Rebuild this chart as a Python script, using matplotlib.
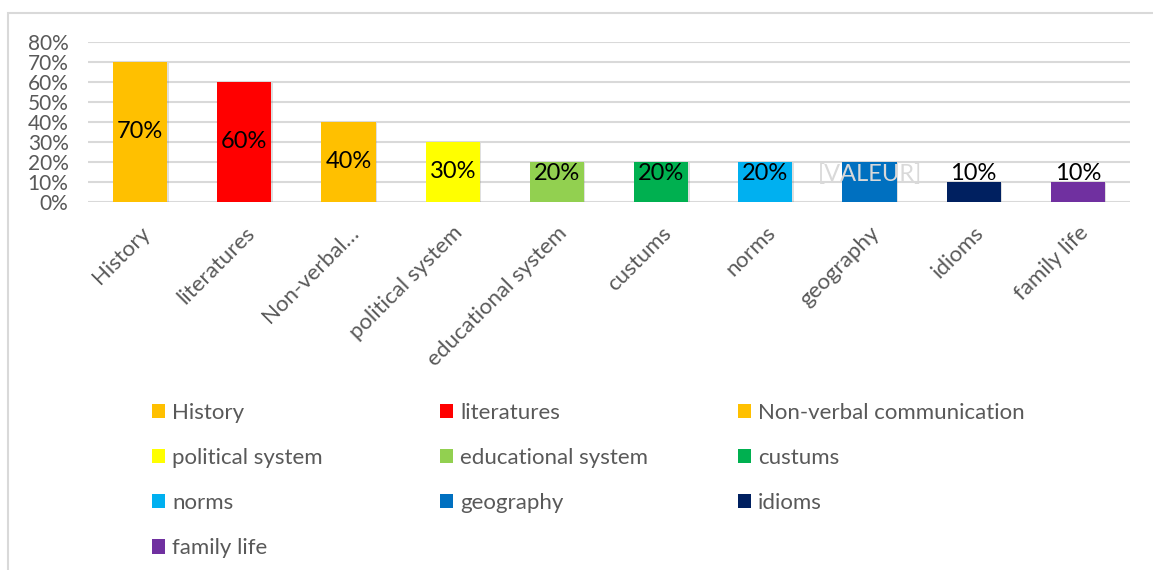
import matplotlib.pyplot as plt
from matplotlib.patches import Patch, Rectangle
from matplotlib.ticker import PercentFormatter
import matplotlib.patheffects as pe

plt.rcParams['font.family'] = ['Lato', 'DejaVu Sans']

categories = ['History', 'literatures', 'Non-verbal communication', 'political system',
              'educational system', 'custums', 'norms', 'geography', 'idioms', 'family life']
tick_labels = ['History', 'literatures', 'Non-verbal\u2026', 'political system',
               'educational system', 'custums', 'norms', 'geography', 'idioms', 'family life']
values = [0.70, 0.60, 0.40, 0.30, 0.20, 0.20, 0.20, 0.20, 0.10, 0.10]
colors = ['#FFC000', '#FF0000', '#FFC000', '#FFFF00', '#92D050',
          '#00B050', '#00B0F0', '#0070C0', '#002060', '#7030A0']
# geography has the unresolved label placeholder
value_labels = ['70%', '60%', '40%', '30%', '20%', '20%', '20%', '[VALEUR]', '10%', '10%']

W, H = 1153, 570
fig = plt.figure(figsize=(W / 100, H / 100), dpi=100)
ax = fig.add_axes([88 / W, 1 - 202 / H, (1130 - 88) / W, 160 / H])

# chart area border
fig.patches.append(Rectangle((7.5 / W, -0.1), 1.2, 1.1 - 13.5 / H, transform=fig.transFigure,
                             fill=False, edgecolor='#d9d9d9', linewidth=1.5))

x = range(len(categories))
bars = ax.bar(x, values, width=0.52, color=colors, zorder=3)
for b in bars:
    b.set_path_effects([pe.SimplePatchShadow(offset=(1, -1), shadow_rgbFace='#808080', alpha=0.25),
                        pe.Normal()])

for i, (v, lab) in enumerate(zip(values, value_labels)):
    ypos = max(v / 2, 0.14)
    col = '#d9d9d9' if lab.startswith('[') else 'black'
    ax.text(i, ypos, lab, ha='center', va='center', fontsize=17, color=col, zorder=4)

ax.set_xlim(-0.5, len(categories) - 0.5)
ax.set_ylim(0, 0.8)
ax.set_yticks([i / 10 for i in range(9)])
ax.yaxis.set_major_formatter(PercentFormatter(1.0, decimals=0))
ax.grid(axis='y', color='#d9d9d9', linewidth=1.5, zorder=0)
ax.set_axisbelow(True)
for s in ax.spines.values():
    s.set_visible(False)
ax.tick_params(axis='y', length=0, pad=14, labelsize=15, labelcolor='#595959')
ax.tick_params(axis='x', length=0, pad=15, labelsize=16, labelcolor='#595959')
ax.set_xticks(list(x))
ax.set_xticklabels(tick_labels, rotation=45, ha='right', va='top', rotation_mode='anchor')

# legend laid out row by row in three columns
col_x = [152, 440, 738]
for c in range(3):
    idx = list(range(c, len(categories), 3))
    handles = [Patch(facecolor=colors[i], edgecolor='none') for i in idx]
    fig.legend(handles, [categories[i] for i in idx], loc='upper left',
               bbox_to_anchor=(col_x[c] / W, 1 - 403 / H), frameon=False,
               fontsize=16, labelcolor='#595959', handlelength=0.6, handleheight=0.6,
               handletextpad=0.3, labelspacing=1.13, borderpad=0, borderaxespad=0)

fig.savefig('out.png', dpi=100)
